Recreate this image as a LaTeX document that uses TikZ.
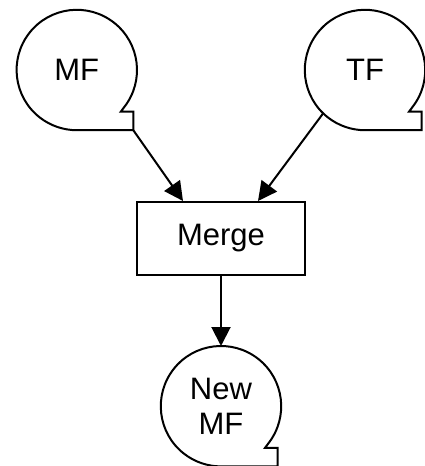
\documentclass[tikz,border=0pt]{standalone}
\usepackage{fontspec}
\setmainfont{Liberation Sans}
\usetikzlibrary{arrows.meta, positioning}

% tape symbol: circle with a square tail at the lower right
\newcommand\tapeline[1]{%
	\draw[line] (#1.-38) arc[start angle=-38, end angle=270, radius=30.1pt]
		-- ([xshift=28.25pt] #1.south) coordinate (#1-tail)
		-- ([xshift=28.25pt, yshift=-20.85pt] #1.center)
		-- ([xshift=22pt, yshift=-20.85pt] #1.center) -- cycle;}

\begin{document}
\begin{tikzpicture}[
	node distance=35pt,
	line/.style = {line width=1pt},
	tape/.style = {circle, minimum size=60.2pt, inner sep=0pt, outer sep=0pt, align=center},
	box/.style  = {draw, line width=1pt, minimum width=84pt, minimum height=36.5pt},
	arr/.style  = {line width=1pt, -{Triangle[length=9.5pt, width=9.5pt]}},
	every node/.style = {font=\fontsize{15.5}{17.5}\selectfont}
	]
	\useasboundingbox (0,0) rectangle (212pt,-233pt);
%
		\node (mf) [tape] at (38.4pt,-35pt) {MF};
		\node (tf) [tape] at (182.5pt,-35pt) {TF};
		\node (merge) [box] at (110.5pt,-119.25pt) {Merge};
		\node (newmf) [tape, below=35pt of merge] {New\\MF};
%
		\tapeline{mf}
		\tapeline{tf}
		\tapeline{newmf}
%
		\draw[arr] (mf-tail) -- ([xshift=-19pt] merge.north);
		\draw[arr] (tf.226) -- ([xshift=18.5pt] merge.north);
		\draw[arr] (merge.south) -- (newmf.north);
\end{tikzpicture}
\end{document}
